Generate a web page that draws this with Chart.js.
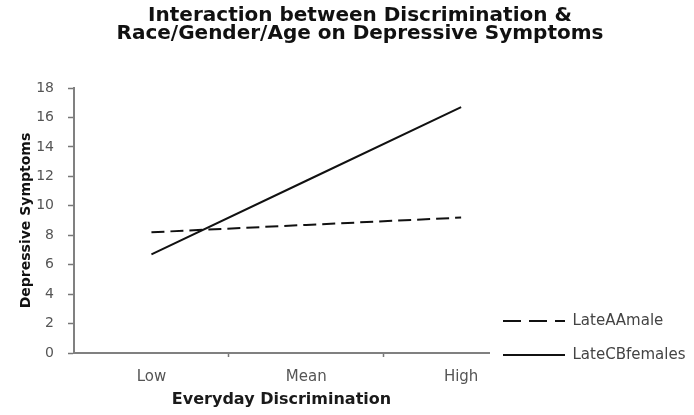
<!DOCTYPE html>
<html>
<head>
<meta charset="utf-8">
<script src="https://cdn.jsdelivr.net/npm/chart.js@4"></script>
<style>
  html, body { margin: 0; padding: 0; background: #fff; }
  #wrap { width: 694px; height: 415px; }
</style>
</head>
<body>
<div id="wrap"><canvas id="chart"></canvas></div>
<script>
const categories = ['Low', 'Mean', 'High'];
const lateAAmale = [8.2, 8.7, 9.2];
const lateCBfemales = [6.7, 11.7, 16.7];
const yTicks = [0, 2, 4, 6, 8, 10, 12, 14, 16, 18];

const FONT = 'DejaVu Sans, Verdana, sans-serif';
const toPoints = vals => vals.map((v, i) => ({ x: i, y: v }));

// the original puts the legend low beside the plot and the title a bit right of centre
const layoutNudge = {
    id: 'layoutNudge',
    afterLayout(chart) {
        const lg = chart.legend;
        if (lg) {
            lg.left = chart.chartArea.right - 5;
            lg.right = chart.width;
            lg.width = lg.right - lg.left;
            lg.bottom = chart.chartArea.bottom + 28.5;
        }
        const tb = chart.titleBlock;
        if (tb) {
            tb.left = 26;
            tb.right = chart.width;
        }
    }
};

document.addEventListener("DOMContentLoaded", () => {
    const context = document.getElementById('chart');

    new Chart(context, {
        type: 'line',
        data: {
            datasets: [{
                label: 'LateAAmale',
                data: toPoints(lateAAmale),
                borderColor: '#111',
                borderWidth: 2,
                borderDash: [13, 6],
                pointRadius: 0,
                fill: false
            }, {
                label: 'LateCBfemales',
                data: toPoints(lateCBfemales),
                borderColor: '#111',
                borderWidth: 2,
                pointRadius: 0,
                fill: false
            }]
        },
        plugins: [layoutNudge],
        options: {
            responsive: true,
            maintainAspectRatio: false,
            animation: false,
            layout: { padding: { left: 0, right: 42, bottom: 0, top: 0 } },
            scales: {
                x: {
                    type: 'linear',
                    min: -0.5,
                    max: 2.18,
                    afterBuildTicks: axis => {
                        axis.ticks = [0, 0.5, 1, 1.5, 2].map(v => ({ value: v }));
                    },
                    ticks: {
                        autoSkip: false,
                        maxRotation: 0,
                        color: '#555',
                        padding: 11,
                        font: { family: FONT, size: 15 },
                        callback: v => Number.isInteger(v) ? categories[v] : ''
                    },
                    grid: {
                        drawOnChartArea: false,
                        drawTicks: true,
                        tickLength: 4,
                        tickWidth: 1.5,
                        tickColor: ctx => (ctx.tick && ctx.tick.value % 1) ? '#777' : 'rgba(0,0,0,0)'
                    },
                    border: { color: '#808080', width: 2 },
                    title: {
                        display: true,
                        text: 'Everyday Discrimination',
                        color: '#1a1a1a',
                        font: { family: FONT, size: 16, weight: 'bold' },
                        padding: { top: -6.6, bottom: 5.4 }
                    }
                },
                y: {
                    min: 0,
                    max: 18,
                    afterBuildTicks: axis => {
                        axis.ticks = yTicks.map(v => ({ value: v }));
                    },
                    ticks: {
                        color: '#555',
                        padding: 14,
                        font: { family: FONT, size: 14 }
                    },
                    grid: {
                        drawOnChartArea: false,
                        drawTicks: true,
                        tickLength: 6,
                        tickWidth: 1.5,
                        tickColor: '#777'
                    },
                    border: { color: '#808080', width: 2 },
                    title: {
                        display: true,
                        text: 'Depressive Symptoms',
                        color: '#111',
                        font: { family: FONT, size: 14, weight: 'bold' },
                        padding: { top: 17.6, bottom: -12.2 }
                    }
                }
            },
            plugins: {
                title: {
                    display: true,
                    text: ['Interaction between Discrimination &', 'Race/Gender/Age on Depressive Symptoms'],
                    color: '#111',
                    font: { family: FONT, size: 20, weight: 'bold', lineHeight: 0.93 },
                    padding: { top: 6, bottom: 44.8 }
                },
                legend: {
                    position: 'right',
                    align: 'end',
                    labels: {
                        usePointStyle: true,
                        pointStyle: 'line',
                        pointStyleWidth: 62,
                        color: '#444',
                        padding: 19,
                        font: { family: FONT, size: 15 },
                        generateLabels: chart =>
                            Chart.defaults.plugins.legend.labels.generateLabels(chart).map((item, i) => ({
                                ...item,
                                strokeStyle: '#111',
                                lineWidth: 2,
                                lineDash: chart.data.datasets[i].borderDash ? [18, 8] : []
                            }))
                    }
                },
                tooltip: { enabled: false }
            }
        }
    });
});
</script>
</body>
</html>
